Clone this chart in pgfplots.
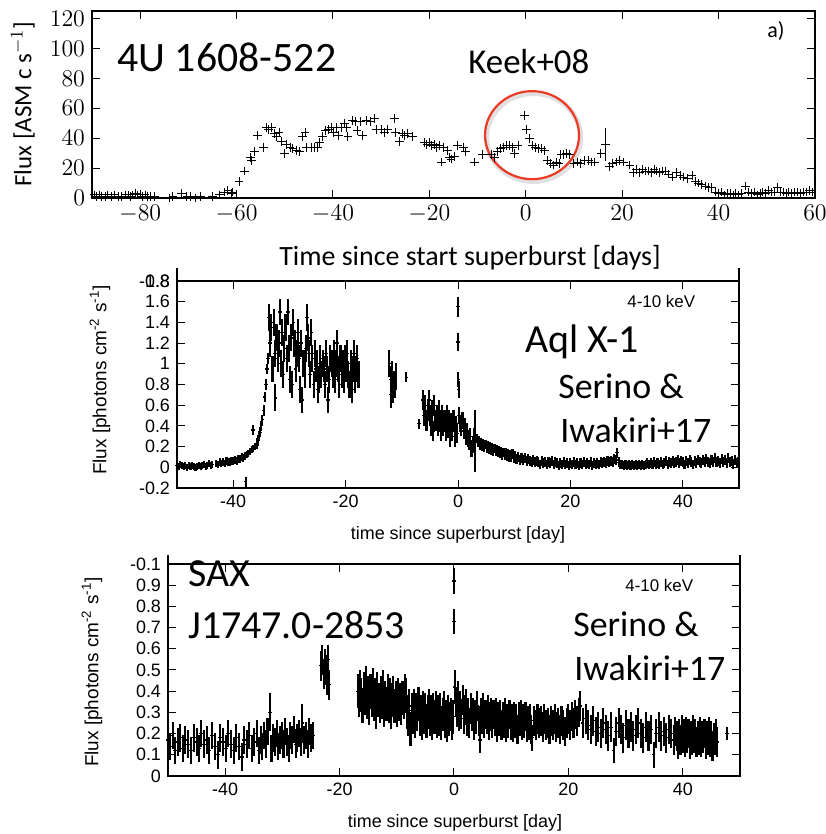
\documentclass[border=0pt]{standalone}
\usepackage{pgfplots}
\pgfplotsset{compat=1.18}
\usepackage{fontspec}
\newfontfamily\carl{Carlito}
\newfontfamily\helv{Liberation Sans}
\definecolor{circred}{RGB}{236,58,36}
\pgfplotsset{bar/.style={black, only marks, mark=-, mark size=0.9bp, mark options={black, line width=0.6bp}},
 eb/.style={error bars/.cd, y dir=both, error mark=none, error bar style={black, line width=1.05bp}}}
\begin{document}
\begin{tikzpicture}
\useasboundingbox (0,0) rectangle (413bp,417bp);
% ---------------- top panel ----------------
\begin{axis}[at={(46bp,318bp)}, anchor=south west, scale only axis,
 width=361.5bp, height=93.5bp,
 xmin=-90, xmax=60, ymin=0, ymax=125,
 xtick={-80,-60,-40,-20,0,20,40,60}, ytick={0,20,40,60,80,100,120},
 tick align=inside, major tick length=4bp,
 ticklabel style={font=\fontsize{12}{12}\selectfont},
 axis line style={line width=0.7bp}, every tick/.style={black, line width=0.5bp},
 clip=false]
\addplot[black, only marks, mark=+, mark size=2.2bp, mark options={line width=0.5bp}] coordinates {
(-89.5,2)(-89,1)(-88.5,2)(-88,1)(-87.3,1)(-86.8,2)(-86,1)(-85.3,2)(-84.5,1)(-83.8,1)(-83,2)(-82.5,2)
(-82,1)(-81.5,2)(-81,3)(-80.5,2)(-80,2)(-79.5,1)(-79,2)(-78.5,1)(-77.8,1)(-77,1)(-74,0)(-73.2,1)
(-71.5,3)(-70.3,1)(-69.5,1)(-68.5,0)(-67.5,1)(-65,1)(-63.5,2)(-62.5,4)(-61.8,5)(-61,3)(-60.8,4)
(-59.5,11)(-58.3,18)(-57.1,27)(-56.9,25)(-56.3,31)(-55.6,42)(-54.4,34)(-53.8,47)(-53.4,46)(-52.7,47)
(-52.2,43)(-51.8,41)(-51.2,44)(-50.7,38)(-50,30)(-49.6,36)(-48.9,34)(-48.3,33)(-47.6,32)(-47,31)
(-46.3,41)(-45.8,44)(-45.5,34)(-44.5,34)(-43.8,34)(-43.2,34)(-42.8,37)(-42.2,41)(-41.5,45)(-41,46)
(-40.4,47)(-39.9,44)(-39.3,47)(-38.8,42)(-38.2,47)(-37.6,50)(-37.2,47)(-36.9,41)(-36,52)(-35.4,51)
(-35,45)(-34.3,51)(-33.8,42)(-33.1,52)(-32.3,51)(-31.4,53)(-31,46)(-30,46)(-29.3,44)(-28.7,46)
(-27.3,53)(-27.1,44)(-26.2,38)(-25.6,43)(-25.1,42)(-24.6,43)(-23.5,41)
(-21,37)(-20.5,36)(-20,37)(-19.5,35)(-19,36)(-18.5,34)(-18,35)(-17.5,24)(-17,34)(-16.3,32)(-15.8,27)
(-15.5,26)(-14.8,28)(-14.2,35)(-13,34)(-12.5,31)(-10.7,24)(-8.9,29)(-7.1,29)(-6.5,27)(-5.8,31)
(-5.2,33)(-4.6,34)(-4,35)(-3.4,35)(-2.7,34)(-2.3,30)(-1.6,35)(-0.2,55)(0.2,46)(0.8,40)(1.4,35)
(2,34)(2.6,33)(3.2,33)(3.9,32)(4.5,25)(5.2,23)(5.8,22)(6.3,24)(6.9,23)(7.3,29)(7.9,29)(8.5,30)
(9.1,29)(10,23)(10.7,24)(11.3,23)(12.2,25)(13,25)(13.6,24)(14.3,24)(15.6,30)(17.3,21)(17.9,23)
(18.9,24)(19.5,25)(20.2,24)(21.6,22)(22.4,17)(23,19)(23.6,17)(24.2,19)(24.8,18)(25.4,18)(26,17)
(26.6,19)(27.2,18)(27.8,17)(28.4,18)(29,18)(29.6,16)(30.4,14)(31.2,17)(32,15)(32.8,14)(33.5,13)
(34.5,15)(35.2,11)(35.8,10)(36.5,9)(37.3,8)(38,7)(38.6,7)(39.3,4)(40,3)(40.6,4)(41.2,2)(41.8,3)
(42.4,3)(43,2)(43.6,3)(44.2,2)(44.8,3)(45.6,8)(46.2,4)(46.8,3)(47.4,4)(48,2)(48.6,3)(49.2,4)
(49.8,3)(50.4,5)(51,4)(51.6,4)(52.2,7)(52.8,4)(53.4,4)(54,3)(54.6,4)(55.2,3)(55.8,4)(56.4,4)
(57,3)(57.6,4)(58.2,4)(58.8,5)(59.4,4)
};
\addplot[black, only marks, mark=+, mark size=2.2bp, mark options={line width=0.5bp},
 error bars/.cd, y dir=both, y explicit, error mark=none, error bar style={black, line width=0.5bp}]
 coordinates {(16.6,36) +- (0,11)};
\draw[black!12, line width=2.6bp] (axis cs:1.6,40.5) ellipse [x radius=23.5bp, y radius=22bp];
\draw[circred, line width=1.1bp] (axis cs:1.3,42) ellipse [x radius=23.5bp, y radius=22bp];
\end{axis}
% ---------------- middle panel ----------------
\begin{axis}[at={(88.5bp,173bp)}, anchor=south west, scale only axis,
 width=281bp, height=103.5bp,
 xmin=-50, xmax=50, ymin=-0.2, ymax=1.8,
 xtick={-40,-20,0,20,40}, ytick={-0.2,0,0.2,0.4,0.6,0.8,1,1.2,1.4,1.6},
 extra y ticks={1.8}, extra y tick labels={\hphantom{-0.8}\llap{1.8}\llap{-0.8}},
 tick align=inside, major tick length=4bp,
 ticklabel style={font=\helv\fontsize{9}{9}\selectfont},
 /pgf/number format/assume math mode=true,
 axis line style={line width=0.7bp}, every tick/.style={black, line width=0.5bp},
 clip=false]
\addplot[bar, eb, y fixed=0.035] coordinates {
(-50.0,0.02)(-49.7,0.01)(-49.4,0.03)(-49.1,0.02)(-48.8,0.01)(-48.5,0.02)(-48.2,0.00)(-47.9,0.02)(-47.6,0.01)
(-47.3,0.02)(-47.0,0.01)(-46.7,0.00)(-46.4,0.01)(-46.1,0.02)(-45.8,0.01)(-45.5,0.02)(-45.2,0.03)(-44.9,0.01)
(-44.6,0.02)(-44.3,0.04)(-44.0,0.02)(-43.7,0.03)(-43.0,0.04)(-42.7,0.03)(-42.4,0.05)(-42.1,0.04)(-41.8,0.05)
(-41.5,0.04)(-41.2,0.06)(-40.9,0.05)(-40.6,0.05)(-40.3,0.06)(-40.0,0.06)(-39.7,0.07)(-39.4,0.06)(-39.1,0.08)
(-38.8,0.08)(-38.5,0.10)(-38.2,0.09)(-37.9,0.11)(-37.6,0.12)(-37.3,0.13)(-37.0,0.15)(-36.7,0.17)(-36.4,0.18)
(-36.1,0.20)
};
\addplot[bar, eb, y fixed=0.05] coordinates {
(-37.8,-0.14)(-36.5,0.36)(-35.8,0.23)(-35.6,0.26)(-35.4,0.30)(-35.2,0.34)(-35.0,0.40)(-34.8,0.46)(-34.6,0.55)
(-34.4,0.68)(-34.2,0.80)(-34.0,0.95)(-33.8,1.05)(-9.2,0.87)(-6.9,0.42)(28.3,0.14)
};
\addplot[bar, eb, y fixed=0.13] coordinates {
(-33.6,1.45)(-33.4,1.20)(-33.2,1.35)(-33.0,0.95)(-32.8,1.40)(-32.6,1.10)(-32.5,0.67)(-32.3,1.25)(-32.1,1.05)
(-31.9,1.20)(-31.7,1.50)(-31.5,1.00)(-31.3,1.30)(-31.1,0.90)(-30.9,1.15)(-30.7,1.35)(-30.5,1.05)(-30.3,1.50)
(-30.1,1.15)(-29.9,0.85)(-29.7,1.25)(-29.5,0.80)(-29.3,1.40)(-29.1,1.20)(-28.9,0.95)(-28.7,1.10)(-28.5,1.30)
(-28.3,1.05)(-28.1,0.75)(-27.9,1.20)(-27.7,0.65)(-27.5,1.00)(-27.3,0.90)(-27.1,1.15)(-26.9,1.45)(-26.7,1.25)
(-26.5,1.10)(-26.3,0.90)(-26.1,1.30)(-25.9,1.05)(-25.7,0.80)(-25.5,1.10)(-25.3,0.95)(-25.1,1.00)(-24.9,0.75)
(-24.7,0.85)(-24.5,1.05)(-24.3,0.90)(-24.1,1.00)(-23.9,0.95)(-23.7,0.80)(-23.5,1.10)(-23.3,0.95)(-23.1,0.65)
(-22.9,0.85)(-22.7,1.05)(-22.5,1.00)(-22.3,0.90)(-22.1,1.10)(-21.9,0.85)(-21.7,1.00)(-21.5,1.20)(-21.3,0.95)
(-21.1,0.80)(-20.9,1.05)(-20.7,0.90)(-20.5,1.00)(-20.3,0.85)(-20.1,1.05)(-19.9,0.95)(-19.7,1.10)(-19.5,0.90)
(-19.3,0.80)(-19.1,1.00)(-18.9,0.75)(-18.7,0.95)(-18.5,1.10)(-18.3,0.85)(-18.1,0.95)(-17.9,1.05)(-17.7,0.90)
(-12.2,1.00)(-12.0,0.85)(-11.9,0.70)(-11.7,0.90)(-11.5,0.75)(-11.3,0.80)(-11.1,0.88)
};
\addplot[bar, eb, y fixed=0.1] coordinates {
(-6.2,0.65)(-6.0,0.50)(-5.8,0.60)(-5.6,0.45)(-5.4,0.55)(-5.2,0.65)(-5.0,0.50)(-4.8,0.40)(-4.6,0.55)(-4.4,0.35)
(-4.2,0.60)(-4.0,0.45)(-3.8,0.50)(-3.6,0.40)(-3.4,0.55)(-3.2,0.45)(-3.0,0.35)(-2.8,0.50)(-2.6,0.40)(-2.4,0.45)
(-2.2,0.35)(-2.0,0.50)(-1.8,0.38)(-1.6,0.45)(-1.4,0.30)(-1.2,0.42)(-1.0,0.35)(-0.8,0.45)(-0.6,0.30)(-0.4,0.40)
(-0.2,0.33)
};
\addplot[bar, eb, y explicit] coordinates {
(0,1.55) +- (0,0.1) (0.03,1.21) +- (0,0.09) (0.06,0.85) +- (0,0.07) (3.1,0.25) +- (0,0.3)
};
\addplot[bar, eb, y fixed=0.08] coordinates {
(0.1,0.75)(0.2,0.50)(0.4,0.42)(0.6,0.38)(0.8,0.45)(1.0,0.35)(1.2,0.40)(1.4,0.30)(1.6,0.35)(1.8,0.28)(2.0,0.25)
(2.2,0.30)(2.4,0.18)(2.6,0.22)(2.8,0.30)
};
\addplot[bar, eb, y fixed=0.045] coordinates {
(3.3,0.28)(3.5,0.24)(3.7,0.26)(3.9,0.21)(4.1,0.24)(4.3,0.20)(4.5,0.23)(4.7,0.19)(4.9,0.22)(5.1,0.18)(5.3,0.21)
(5.5,0.17)(5.7,0.20)(5.9,0.16)(6.1,0.19)(6.3,0.15)(6.5,0.18)(6.7,0.15)(6.9,0.17)(7.1,0.14)(7.3,0.16)(7.5,0.13)
(7.7,0.15)(7.9,0.12)(8.1,0.14)(8.3,0.12)(8.5,0.14)(8.7,0.11)(8.9,0.13)(9.1,0.10)(9.3,0.12)(9.5,0.10)(9.7,0.13)
(9.9,0.09)(10.1,0.11)(10.4,0.08)(10.7,0.10)(11.0,0.07)(11.3,0.09)(11.6,0.07)(11.9,0.09)(12.2,0.06)(12.5,0.08)
(12.8,0.06)(13.1,0.05)(13.4,0.07)(13.7,0.05)(14.0,0.06)(14.3,0.05)(14.6,0.03)(14.9,0.06)(15.2,0.04)(15.5,0.05)
(15.8,0.03)(16.1,0.05)(16.4,0.04)(16.7,0.06)(17.0,0.03)(17.3,0.05)(17.6,0.04)(17.9,0.02)(18.2,0.04)(18.5,0.03)
(18.8,0.05)(19.1,0.03)(19.4,0.04)(19.7,0.02)(20.0,0.04)(20.3,0.03)(20.6,0.05)(20.9,0.03)(21.2,0.04)(21.5,0.02)
(21.8,0.04)(22.1,0.03)(22.4,0.05)(22.7,0.03)(23.0,0.04)(23.3,0.03)(23.6,0.05)(23.9,0.02)(24.2,0.04)(24.5,0.03)
(24.8,0.04)(25.1,0.03)(25.4,0.05)(25.7,0.04)(26.0,0.05)(26.3,0.04)(26.6,0.06)(26.9,0.05)(27.2,0.06)(27.5,0.05)
(27.8,0.08)(28.1,0.07)(28.6,0.05)(28.9,0.03)(29.2,0.03)(29.5,0.02)(29.8,0.03)(30.1,0.02)(30.4,0.03)(30.7,0.02)
(31.0,0.03)(31.3,0.02)(31.6,0.03)(31.9,0.02)(32.2,0.03)(32.5,0.02)(32.8,0.03)(33.1,0.02)(33.4,0.03)(33.7,0.04)
(34.0,0.03)(34.3,0.04)(34.6,0.03)(34.9,0.05)(35.2,0.03)(35.5,0.04)(35.8,0.03)(36.1,0.05)(36.4,0.03)(36.7,0.04)
(37.0,0.06)(37.3,0.03)(37.6,0.05)(37.9,0.04)(38.2,0.06)(38.5,0.04)(38.8,0.05)(39.1,0.07)(39.4,0.04)(39.7,0.06)
(40.0,0.05)(40.3,0.03)(40.6,0.06)(40.9,0.04)(41.2,0.07)(41.5,0.05)(41.8,0.03)(42.1,0.06)(42.4,0.04)(42.7,0.07)
(43.0,0.05)(43.3,0.04)(43.6,0.07)(43.9,0.05)(44.2,0.08)(44.5,0.05)(44.8,0.04)(45.1,0.07)(45.4,0.05)(45.7,0.09)
(46.0,0.05)(46.3,0.06)(46.6,0.04)(46.9,0.08)(47.2,0.05)(47.5,0.07)(47.8,0.04)(48.1,0.09)(48.4,0.05)(48.7,0.06)
(49.0,0.03)(49.3,0.07)(49.6,0.04)(49.9,0.05)
};
\draw[line width=0.7bp] (rel axis cs:0,1) -- ([yshift=6.5bp]rel axis cs:0,1);
\draw[line width=0.7bp] (rel axis cs:1,1) -- ([yshift=6.5bp]rel axis cs:1,1);
\end{axis}
% ---------------- bottom panel ----------------
\begin{axis}[at={(84bp,29bp)}, anchor=south west, scale only axis,
 width=286bp, height=106bp,
 xmin=-50, xmax=50, ymin=0, ymax=1,
 xtick={-40,-20,0,20,40}, ytick={0,0.1,0.2,0.3,0.4,0.5,0.6,0.7,0.8,0.9},
 extra y ticks={1}, extra y tick labels={-0.1},
 tick align=inside, major tick length=4bp,
 ticklabel style={font=\helv\fontsize{9}{9}\selectfont},
 /pgf/number format/assume math mode=true,
 axis line style={line width=0.7bp}, every tick/.style={black, line width=0.5bp},
 clip=false]
\addplot[bar, eb, y fixed=0.065] coordinates {
(-50.0,0.17)(-49.6,0.14)(-49.2,0.19)(-48.8,0.12)(-48.3,0.16)(-47.9,0.18)(-47.4,0.13)(-47.0,0.17)(-46.5,0.15)
(-46.0,0.12)(-45.5,0.18)(-45.0,0.16)(-44.6,0.13)(-44.2,0.20)(-43.7,0.15)(-43.2,0.17)(-42.8,0.12)(-42.3,0.19)
(-41.8,0.14)(-41.3,0.10)(-40.9,0.18)(-40.4,0.16)(-39.9,0.13)(-39.5,0.20)(-39.0,0.15)(-38.5,0.12)(-38.1,0.18)
(-37.6,0.14)(-37.1,0.09)(-36.7,0.17)(-36.2,0.15)(-35.8,0.19)(-35.3,0.13)(-34.9,0.16)(-34.5,0.20)(-34.1,0.12)
(-33.8,0.17)(-33.5,0.14)(-33.2,0.19)(-32.9,0.15)(-32.6,0.21)(-31.9,0.13)(-31.6,0.18)(-31.3,0.16)(-31.0,0.20)
(-30.7,0.14)(-30.4,0.17)(-30.1,0.19)(-29.8,0.15)(-29.5,0.21)(-29.2,0.16)(-28.9,0.13)(-28.6,0.19)(-28.3,0.17)
(-28.0,0.22)(-27.7,0.15)(-27.4,0.18)(-27.1,0.20)(-26.8,0.16)(-26.2,0.17)(-25.9,0.19)(-25.6,0.15)(-25.3,0.21)
(-25.0,0.18)(-24.7,0.19)
};
\addplot[bar, eb, y fixed=0.09] coordinates {
(-32.2,0.30)(-26.5,0.25)
};
\addplot[bar, eb, y fixed=0.07] coordinates {
(-23.2,0.52)(-23.0,0.55)(-22.8,0.48)(-22.6,0.53)(-22.4,0.50)(-22.2,0.45)(-22.0,0.55)(-21.8,0.43)
};
\addplot[bar, eb, y fixed=0.08] coordinates {
(-16.8,0.40)(-16.6,0.36)(-16.4,0.42)(-16.2,0.38)(-16.0,0.33)(-15.8,0.41)(-15.6,0.37)(-15.4,0.44)(-15.2,0.35)
(-15.0,0.39)(-14.8,0.32)(-14.6,0.40)(-14.4,0.36)(-14.2,0.43)(-14.0,0.34)(-13.8,0.38)(-13.6,0.30)(-13.4,0.41)
(-13.2,0.36)(-13.0,0.33)(-12.8,0.39)(-12.6,0.35)(-12.4,0.42)(-12.2,0.31)(-12.0,0.37)(-11.8,0.34)(-11.6,0.40)
(-11.4,0.33)(-11.2,0.38)(-11.0,0.30)(-10.8,0.36)(-10.6,0.39)(-10.4,0.33)(-10.2,0.37)(-10.0,0.31)(-9.8,0.38)
(-9.6,0.34)(-9.4,0.36)(-9.2,0.32)(-9.0,0.37)(-8.8,0.35)(-8.6,0.40)(-8.4,0.38)
(-8.2,0.30)(-8.0,0.27)(-7.8,0.33)(-7.6,0.22)(-7.4,0.31)(-7.2,0.28)(-7.0,0.33)(-6.8,0.26)(-6.6,0.31)(-6.4,0.29)
(-6.2,0.34)(-6.0,0.27)(-5.8,0.30)(-5.6,0.25)(-5.4,0.32)(-5.2,0.28)(-5.0,0.31)(-4.8,0.26)(-4.6,0.30)(-4.4,0.33)
(-4.2,0.27)(-4.0,0.30)(-3.8,0.25)(-3.6,0.31)(-3.4,0.28)(-3.2,0.32)(-3.0,0.26)(-2.8,0.30)(-2.6,0.27)(-2.4,0.31)
(-2.2,0.25)(-2.0,0.29)(-1.8,0.32)(-1.6,0.26)(-1.4,0.28)(-1.2,0.24)(-1.0,0.30)(-0.8,0.27)(-0.6,0.29)(-0.4,0.25)
(-0.2,0.28)(0.1,0.42)
};
\addplot[bar, eb, y fixed=0.06] coordinates {
(0,0.92)(0.02,0.73)(4.5,0.17)(13.7,0.18)(27.9,0.12)(34.9,0.10)
};
\addplot[bar, eb, y fixed=0.07] coordinates {
(0.3,0.35)(0.5,0.30)(0.7,0.38)(0.9,0.28)(1.1,0.33)(1.3,0.29)(1.5,0.36)(1.7,0.27)(1.9,0.31)(2.1,0.34)(2.3,0.26)
(2.5,0.30)(2.7,0.25)(2.9,0.32)(3.1,0.28)(3.3,0.30)(3.5,0.24)(3.7,0.29)(3.9,0.27)(4.1,0.33)(4.3,0.26)(4.7,0.30)
(4.9,0.27)(5.1,0.32)(5.3,0.25)(5.5,0.29)(5.7,0.27)(5.9,0.31)(6.1,0.24)(6.3,0.28)(6.5,0.30)(6.7,0.25)(6.9,0.29)
(7.1,0.26)(7.3,0.30)(7.5,0.23)(7.7,0.28)(7.9,0.26)(8.1,0.29)(8.3,0.24)(8.5,0.28)(8.7,0.25)(8.9,0.30)(9.1,0.23)
(9.3,0.27)(9.5,0.25)(9.7,0.29)(9.9,0.24)(10.1,0.27)(10.3,0.23)(10.5,0.28)(10.7,0.25)(10.9,0.27)(11.1,0.22)
(11.3,0.28)(11.5,0.26)(11.7,0.29)(11.9,0.24)(12.1,0.27)(12.3,0.25)(12.5,0.28)(12.7,0.23)(12.9,0.26)(13.1,0.24)
(13.3,0.27)(13.5,0.22)(14.0,0.26)(14.3,0.24)(14.6,0.27)(14.9,0.25)(15.2,0.26)(15.5,0.23)(15.8,0.27)(16.1,0.24)
(16.4,0.25)(16.7,0.22)(17.0,0.26)(17.3,0.24)(17.6,0.27)(17.9,0.23)(18.2,0.25)(18.5,0.22)(18.8,0.26)(19.1,0.24)
(19.4,0.21)(19.7,0.25)(20.0,0.27)(20.3,0.24)(20.6,0.28)(20.9,0.25)(21.2,0.29)(21.5,0.26)(21.8,0.30)(22.1,0.33)
(22.5,0.25)(23.0,0.27)(23.4,0.24)(23.9,0.22)(24.3,0.26)(24.8,0.21)(25.2,0.23)(25.7,0.20)(26.1,0.25)(26.6,0.22)
(27.0,0.19)(27.5,0.23)(28.3,0.21)(28.8,0.25)(29.2,0.22)(29.6,0.18)(30.0,0.24)(30.5,0.20)(30.9,0.23)(31.3,0.19)
(31.8,0.22)(32.2,0.25)(32.7,0.20)(33.1,0.18)(33.5,0.23)(34.0,0.19)(34.4,0.22)(35.3,0.20)(35.8,0.23)(36.2,0.19)
(36.7,0.21)(37.1,0.18)(37.6,0.22)(38.0,0.20)(38.4,0.17)(38.7,0.21)(39.0,0.19)(39.2,0.15)(39.4,0.20)(39.6,0.17)
(39.8,0.22)(40.0,0.18)(40.2,0.20)(40.4,0.16)(40.6,0.21)(40.8,0.18)(41.0,0.20)(41.2,0.15)(41.4,0.19)(41.6,0.17)
(41.8,0.22)(42.0,0.18)(42.2,0.20)(42.4,0.16)(42.6,0.19)(42.8,0.17)(43.0,0.21)(43.2,0.16)(43.4,0.19)(43.6,0.18)
(43.8,0.20)(44.0,0.15)(44.2,0.19)(44.4,0.17)(44.6,0.21)(44.8,0.16)(45.0,0.19)(45.2,0.14)(45.4,0.18)(45.6,0.17)
(45.8,0.20)(46.0,0.16)
};
\addplot[bar, eb, y fixed=0.03] coordinates {
(47.7,0.20)
};
\draw[line width=0.7bp] (rel axis cs:0,1) -- ([yshift=4.5bp]rel axis cs:0,1);
\draw[line width=0.7bp] (rel axis cs:1,1) -- ([yshift=4.5bp]rel axis cs:1,1);
\end{axis}
% ---------------- text ----------------
\node[anchor=base west, inner sep=0, font=\carl\fontsize{21}{21}\selectfont] at (58.5bp,381bp) {4U 1608-522};
\node[anchor=base west, inner sep=0, font=\carl\fontsize{17.5}{17.5}\selectfont] at (234bp,380bp) {Keek+08};
\node[anchor=base west, inner sep=0, font=\carl\fontsize{11}{11}\selectfont] at (383.5bp,398bp) {a)};
\node[rotate=90, inner sep=0, font=\carl\fontsize{12.5}{12.5}\selectfont] at (11.5bp,365bp) {Flux [ASM c s$^{-1}$]};
\node[inner sep=0, font=\carl\fontsize{14}{14}\selectfont] at (235bp,288bp) {Time since start superburst [days]};
\node[anchor=base west, inner sep=0, font=\helv\fontsize{8.5}{8.5}\selectfont] at (313.5bp,263bp) {4-10 keV};
\node[anchor=base west, inner sep=0, font=\carl\fontsize{20}{20}\selectfont] at (262.5bp,240.5bp) {Aql X-1};
\node[anchor=base west, inner sep=0, font=\carl\fontsize{18}{18}\selectfont] at (279bp,217.5bp) {Serino \&};
\node[anchor=base west, inner sep=0, font=\carl\fontsize{18}{18}\selectfont] at (280bp,195.5bp) {Iwakiri+17};
\node[anchor=base, inner sep=0, font=\helv\fontsize{9}{9}\selectfont] at (229bp,147bp) {time since superburst [day]};
\node[rotate=90, inner sep=0, font=\helv\fontsize{9.5}{9.5}\selectfont] at (50bp,227bp) {Flux [photons cm\textsuperscript{-2} s\textsuperscript{-1}]};
\node[anchor=base west, inner sep=0, font=\carl\fontsize{20}{20}\selectfont] at (94bp,123.5bp) {SAX};
\node[anchor=base west, inner sep=0, font=\carl\fontsize{20}{20}\selectfont] at (94bp,97.5bp) {J1747.0-2853};
\node[anchor=base west, inner sep=0, font=\helv\fontsize{8.5}{8.5}\selectfont] at (312.5bp,121bp) {4-10 keV};
\node[anchor=base west, inner sep=0, font=\carl\fontsize{18}{18}\selectfont] at (286.5bp,98.5bp) {Serino \&};
\node[anchor=base west, inner sep=0, font=\carl\fontsize{18}{18}\selectfont] at (287bp,76.5bp) {Iwakiri+17};
\node[anchor=base, inner sep=0, font=\helv\fontsize{9}{9}\selectfont] at (227.5bp,3.5bp) {time since superburst [day]};
\node[rotate=90, inner sep=0, font=\helv\fontsize{9.5}{9.5}\selectfont] at (46bp,81bp) {Flux [photons cm\textsuperscript{-2} s\textsuperscript{-1}]};
\end{tikzpicture}
\end{document}
